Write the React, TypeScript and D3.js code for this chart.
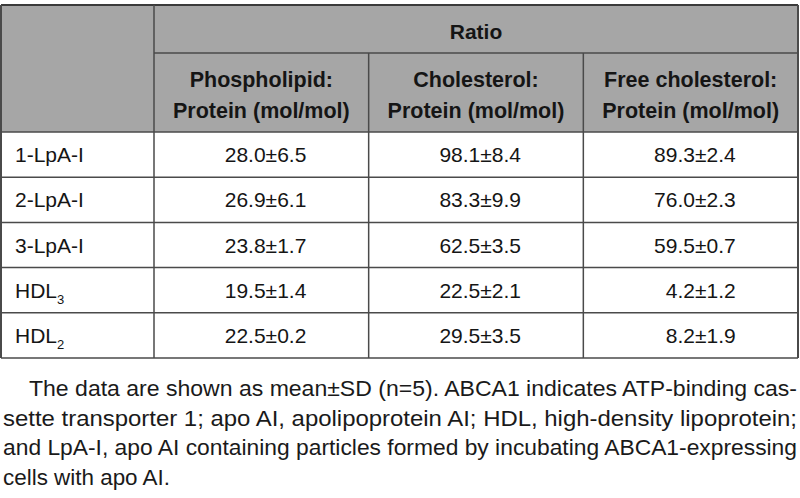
import * as d3 from 'd3';

const rowLabels = ['1-LpA-I', '2-LpA-I', '3-LpA-I', 'HDL|3', 'HDL|2'];
const groupHeader = 'Ratio';
const columnHeaders = [
  ['Phospholipid:', 'Protein (mol/mol)'],
  ['Cholesterol:', 'Protein (mol/mol)'],
  ['Free cholesterol:', 'Protein (mol/mol)'],
];
const phospholipid = ['28.0±6.5', '26.9±6.1', '23.8±1.7', '19.5±1.4', '22.5±0.2'];
const cholesterol = ['98.1±8.4', '83.3±9.9', '62.5±3.5', '22.5±2.1', '29.5±3.5'];
const freeCholesterol = ['89.3±2.4', '76.0±2.3', '59.5±0.7', '4.2±1.2', '8.2±1.9'];
const footnote = [
  'The data are shown as mean±SD (n=5). ABCA1 indicates ATP-binding cas-',
  'sette transporter 1; apo AI, apolipoprotein AI; HDL, high-density lipoprotein;',
  'and LpA-I, apo AI containing particles formed by incubating ABCA1-expressing',
  'cells with apo AI.',
];

const columns = [phospholipid, cholesterol, freeCholesterol];

export default function App() {
  const width = 800;
  const height = 498;
  const left = 1;
  const right = 798;
  const labelCol = 154;
  const top = 5;
  const head1 = 53;
  const head2 = 132;
  const bottom = 358;

  const x = d3
    .scaleBand<number>()
    .domain(d3.range(columns.length))
    .range([labelCol, right]);
  const y = d3.scaleBand<string>().domain(rowLabels).range([head2, bottom]);

  const border = '#4a4a4a';
  const font = '"Liberation Sans", Arial, sans-serif';
  const textColor = '#151515';

  // footnote lines: start x and justified length
  const footX = [29, 3, 3, 3];
  const footLen = [768, 794, 794, 167];
  const footY = d3.scaleLinear().domain([0, 1]).range([396, 425.5]);

  return (
    <svg
      width={width}
      height={height}
      style={{ position: 'fixed', left: 0, top: 0, background: '#fff' }}
      fontFamily={font}
    >
      {/* header background */}
      <rect x={left} y={top} width={right - left} height={head2 - top} fill="#a6a6a6" />
      <rect x={left} y={head2} width={right - left} height={bottom - head2} fill="#fff" />

      {/* horizontal lines */}
      <line x1={left} x2={right} y1={top} y2={top} stroke="#3a3a3a" strokeWidth={2} />
      <line x1={labelCol} x2={right} y1={head1} y2={head1} stroke={border} strokeWidth={1.5} />
      <line x1={left} x2={right} y1={head2} y2={head2} stroke={border} strokeWidth={1.5} />
      {rowLabels.map((r) => (
        <line
          key={r}
          x1={left}
          x2={right}
          y1={(y(r) ?? 0) + y.bandwidth()}
          y2={(y(r) ?? 0) + y.bandwidth()}
          stroke={border}
          strokeWidth={1.5}
        />
      ))}

      {/* vertical lines */}
      <line x1={left} x2={left} y1={top} y2={bottom} stroke={border} strokeWidth={2} />
      <line x1={right} x2={right} y1={top} y2={bottom} stroke={border} strokeWidth={2} />
      <line x1={labelCol} x2={labelCol} y1={top} y2={bottom} stroke={border} strokeWidth={1.5} />
      {d3.range(1, columns.length).map((i) => (
        <line
          key={i}
          x1={x(i)}
          x2={x(i)}
          y1={head1}
          y2={bottom}
          stroke={border}
          strokeWidth={1.5}
        />
      ))}

      {/* header text */}
      <text
        x={(labelCol + right) / 2}
        y={39}
        textAnchor="middle"
        fontSize={21}
        fontWeight={700}
        fill={textColor}
      >
        {groupHeader}
      </text>
      {columnHeaders.map((lines, i) => (
        <g key={i}>
          {lines.map((t, j) => (
            <text
              key={j}
              x={(x(i) ?? 0) + x.bandwidth() / 2}
              y={87 + j * 31}
              textAnchor="middle"
              fontSize={21.5}
              fontWeight={700}
              fill={textColor}
            >
              {t}
            </text>
          ))}
        </g>
      ))}

      {/* row labels */}
      {rowLabels.map((r) => {
        const [main, sub] = r.split('|');
        const cy = (y(r) ?? 0) + y.bandwidth() / 2 + 7.5;
        return (
          <text key={r} x={15} y={cy} fontSize={21} fill={textColor}>
            {main}
            {sub && (
              <tspan fontSize={13} dy={6}>
                {sub}
              </tspan>
            )}
          </text>
        );
      })}

      {/* values */}
      {columns.map((col, i) =>
        col.map((v, k) => (
          <text
            key={`${i}-${k}`}
            x={(x(i) ?? 0) + x.bandwidth() / 2 + 45}
            y={(y(rowLabels[k]) ?? 0) + y.bandwidth() / 2 + 7.5}
            textAnchor="end"
            fontSize={21}
            fill={textColor}
          >
            {v}
          </text>
        ))
      )}

      {/* footnote */}
      {footnote.map((t, i) => (
        <text
          key={i}
          x={footX[i]}
          y={footY(i)}
          fontSize={22}
          fill="#1a1a1a"
          textLength={footLen[i]}
          lengthAdjust="spacingAndGlyphs"
        >
          {t}
        </text>
      ))}
    </svg>
  );
}
